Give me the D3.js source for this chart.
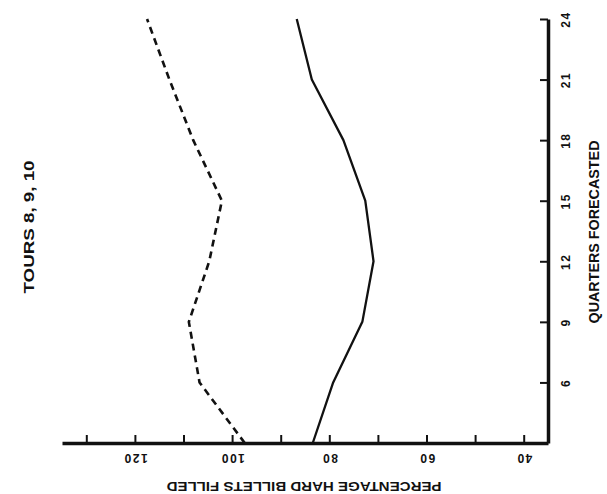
<!DOCTYPE html>
<html>
<head>
<meta charset="utf-8">
<script src="https://cdn.jsdelivr.net/npm/d3@7"></script>
<style>
  html, body { margin: 0; padding: 0; background: #fff; }
  svg { display: block; }
  text { font-family: "Liberation Sans", Arial, sans-serif; font-weight: bold; fill: #111; }
</style>
</head>
<body>
<svg id="chart" width="607" height="494"></svg>
<script>
// Data (original chart rotated 90° counter-clockwise)
const quarters = [3, 6, 9, 12, 15, 18, 21, 24];
const solidSeries = [83.4, 79.2, 73.2, 70.9, 72.6, 77.1, 83.6, 86.7];
const dashedSeries = [97.4, 106.7, 108.9, 104.7, 102.1, 108.0, 112.9, 117.5];
const quarterTicks = [6, 9, 12, 15, 18, 21, 24];
const percentTicks = [40, 50, 60, 70, 80, 90, 100, 110, 120, 130];
const percentLabels = [40, 60, 80, 100, 120];
const titleText = "TOURS 8, 9, 10";
const quarterTitle = "QUARTERS FORECASTED";
const percentTitle = "PERCENTAGE HARD BILLETS FILLED";

const svg = d3.select("#chart");

// Percentage runs right-to-left along the bottom, quarters bottom-to-top along the right
const x = d3.scaleLinear().domain([135, 35]).range([62, 548]);
const y = d3.scaleLinear().domain([3, 24]).range([443, 19]);

const labelStyle = sel => sel
  .attr("dominant-baseline", "central")
  .attr("text-anchor", "middle")
  .style("font-size", "12px")
  .style("letter-spacing", "1.5px")
  .style("font-family", "'Liberation Sans', Arial, sans-serif")
  .style("font-weight", "bold")
  .attr("fill", "#111");

// Bottom (percentage) axis
const bottomAxis = d3.axisBottom(x)
  .tickValues(percentTicks)
  .tickSizeInner(-8)
  .tickSizeOuter(0)
  .tickFormat(d => percentLabels.includes(d) ? d : "");
const gB = svg.append("g").attr("transform", "translate(0,443)").call(bottomAxis);
gB.select(".domain").attr("stroke", "#111").attr("stroke-width", 3.5);
gB.selectAll(".tick line").attr("stroke", "#111").attr("stroke-width", 2);
gB.selectAll(".tick text")
  .attr("y", 0).attr("dy", null)
  .attr("transform", "translate(0,15) rotate(180)")
  .call(labelStyle);

// Right (quarters) axis
const rightAxis = d3.axisRight(y)
  .tickValues(quarterTicks)
  .tickSizeInner(-8)
  .tickSizeOuter(0)
  .tickFormat(d => d);
const gR = svg.append("g").attr("transform", "translate(548,0)").call(rightAxis);
gR.select(".domain").attr("stroke", "#111").attr("stroke-width", 3.5);
gR.selectAll(".tick line").attr("stroke", "#111").attr("stroke-width", 2);
gR.selectAll(".tick text")
  .attr("x", 0).attr("dy", null)
  .attr("transform", "translate(18,0) rotate(-90)")
  .call(labelStyle);

// Lines
const line = d3.line()
  .x(d => x(d[1]))
  .y(d => y(d[0]));

svg.append("path")
  .datum(quarters.map((q, i) => [q, solidSeries[i]]))
  .attr("d", line)
  .attr("fill", "none")
  .attr("stroke", "#111")
  .attr("stroke-width", 2.3)
  .attr("stroke-linejoin", "round");

svg.append("path")
  .datum(quarters.map((q, i) => [q, dashedSeries[i]]))
  .attr("d", line)
  .attr("fill", "none")
  .attr("stroke", "#111")
  .attr("stroke-width", 2.6)
  .attr("stroke-dasharray", "7,5");

// Titles
svg.append("text")
  .attr("transform", "translate(28,227) rotate(-90)")
  .attr("text-anchor", "middle")
  .attr("dominant-baseline", "central")
  .attr("textLength", 133)
  .attr("lengthAdjust", "spacingAndGlyphs")
  .style("font-size", "15px")
  .text(titleText);

svg.append("text")
  .attr("transform", "translate(594,232) rotate(-90)")
  .attr("text-anchor", "middle")
  .attr("dominant-baseline", "central")
  .attr("textLength", 183)
  .attr("lengthAdjust", "spacingAndGlyphs")
  .style("font-size", "14px")
  .text(quarterTitle);

svg.append("text")
  .attr("transform", "translate(304,486) rotate(180)")
  .attr("text-anchor", "middle")
  .attr("dominant-baseline", "central")
  .attr("textLength", 275)
  .attr("lengthAdjust", "spacingAndGlyphs")
  .style("font-size", "13px")
  .text(percentTitle);
</script>
</body>
</html>
